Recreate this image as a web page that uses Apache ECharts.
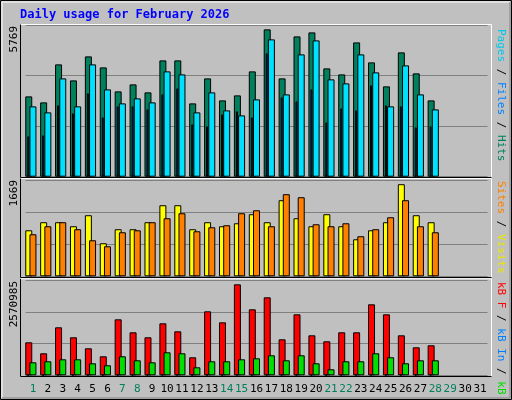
<!DOCTYPE html>
<html><head><meta charset="utf-8">
<script src="https://cdn.jsdelivr.net/npm/echarts@6/dist/echarts.min.js"></script>
<style>html,body{margin:0;padding:0;background:#C0C0C0}#c{width:512px;height:400px}</style>
</head><body><div id="c"></div>
<script>
const days = ['1','2','3','4','5','6','7','8','9','10','11','12','13','14','15','16','17','18','19','20','21','22','23','24','25','26','27','28','29','30','31'];
const weekend = ['1','7','8','14','15','21','22','28','29'];
const hits  = [3145,2910,4398,3771,4711,4280,3341,3615,3302,4554,4554,2871,3850,2988,3184,4124,5769,3850,5494,5651,4241,4006,5259,4476,3537,4868,4046,2988];
const files = [2754,2519,3850,2754,4398,3419,2871,3067,2910,4124,4006,2519,3302,2597,2401,3028,5377,3223,4789,5337,3811,3654,4789,4085,2754,4359,3223,2636];
const pages = [1579,1618,2793,2480,3263,2323,2754,2754,2636,3223,3458,2049,1971,2440,2558,2323,4829,3106,2949,3419,2127,2675,2597,3576,2793,2754,1931,1971];
const visits= [834,980,980,907,1107,599,853,853,980,1288,1288,853,980,907,961,1125,980,1379,1052,907,1125,907,671,834,980,1669,1107,980];
const sites = [762,907,980,853,653,544,798,834,980,1052,1143,816,889,925,1143,1197,907,1488,1433,943,907,961,726,853,1070,1379,907,798];
const kbF   = [932,622,1356,1074,763,537,1582,1215,1074,1469,1243,509,1808,1497,2571,1865,2204,1017,1723,1130,961,1215,1215,2006,1723,1130,791,848].map(v=>v*1000);
const kbIn  = [12,10,12,11,10,9,12,11,10,12,12,9,12,11,13,12,14,11,12,10,9,11,11,13,12,11,10,10].map(v=>v*1000);
const kbOut = [367,396,452,452,339,283,537,424,367,650,622,226,396,396,452,480,565,424,565,339,170,396,396,622,509,339,424,424].map(v=>v*1000);
const yMaxLabels = ['5769','1669','2570985'];

const L=25.5, W=462;
const panels=[{top:25,h:151.7,max:5940,iv:1980},{top:180.3,h:96,max:1740,iv:580},{top:280.3,h:95,max:2685000,iv:895000}];
const defs=[
 {p:0,d:hits,c:'#00805C',dx:-4.2,w:7},{p:0,d:pages,c:'#0040FF',dx:-4.7,w:2},{p:0,d:files,c:'#00E0FF',dx:0,w:7},
 {p:1,d:visits,c:'#FFFF00',dx:-4.2,w:7},{p:1,d:sites,c:'#FF8000',dx:0,w:7},
 {p:2,d:kbF,c:'#FF0000',dx:-4.2,w:7},{p:2,d:kbIn,c:'#0080FF',dx:-4.7,w:2},{p:2,d:kbOut,c:'#00E000',dx:0,w:7}
];
const grid=[],xAxis=[],yAxis=[],series=[];
// gridline grids (one per panel)
panels.forEach((p,i)=>{
  grid.push({left:L,width:W,top:p.top,height:p.h});
  xAxis.push({type:'category',gridIndex:i,data:days,show:false});
  yAxis.push({type:'value',gridIndex:i,min:0,max:p.max,interval:p.iv,axisLabel:{show:false},axisLine:{show:false},axisTick:{show:false},
    splitLine:{show:true,lineStyle:{color:'#808080',width:1}}});
});
defs.forEach((s,k)=>{
  const gi=grid.length, p=panels[s.p];
  grid.push({left:L+s.dx,width:W,top:p.top,height:p.h});
  xAxis.push({type:'category',gridIndex:gi,data:days,show:false});
  yAxis.push({type:'value',gridIndex:gi,min:0,max:p.max,show:false,splitLine:{show:false}});
  series.push({type:'bar',xAxisIndex:gi,yAxisIndex:gi,data:s.d,barWidth:s.w,z:2+k,
    itemStyle:{color:s.c,borderColor:'#000',borderWidth:1},silent:true,animation:false});
});
// x label axis
grid.push({left:L,width:W,top:panels[2].top,height:panels[2].h});
const lg=grid.length-1;
xAxis.push({type:'category',gridIndex:lg,data:days,axisLine:{show:false},axisTick:{show:false},
  axisLabel:{interval:0,margin:8,fontFamily:'DejaVu Sans Mono',fontSize:11,
    color:(v)=>weekend.includes(v)?'#00805C':'#000'}});
yAxis.push({type:'value',gridIndex:lg,show:false});

const g=[];
g.push({type:'rect',shape:{x:0.5,y:0.5,width:511,height:399},style:{fill:'none',stroke:'#000',lineWidth:1}});
g.push({type:'polyline',shape:{points:[[2,398],[2,2],[510,2]]},style:{stroke:'#fff',lineWidth:1,fill:'none'}});
g.push({type:'polyline',shape:{points:[[2,398],[510,398],[510,2]]},style:{stroke:'#808080',lineWidth:1,fill:'none'}});
g.push({type:'text',x:20,y:9,style:{text:'Daily usage for February 2026',fill:'#0000FF',font:'bold 12px "DejaVu Sans Mono"'}});
const pb=[[24.5,177.5],[178.5,277.5],[278.8,376.5]];
pb.forEach(([t,b])=>{
  g.push({type:'polyline',shape:{points:[[20.5,b],[20.5,t],[491.5,t],[491.5,b]]},style:{stroke:'#fff',lineWidth:1,fill:'none'}});
  g.push({type:'polyline',shape:{points:[[20.5,t],[20.5,b],[491.5,b]]},style:{stroke:'#000',lineWidth:1,fill:'none'}});
});
const ylabY=[26,180,281];
yMaxLabels.forEach((t,i)=>{
  g.push({type:'text',x:9,y:ylabY[i],rotation:Math.PI/2,style:{text:t,fill:'#000',font:'11px "DejaVu Sans Mono"',align:'right',verticalAlign:'top'}});
});
const legends=[
 {y:29,parts:[['Pages','#00C8E8'],[' / ','#000'],['Files','#0080FF'],[' / ','#000'],['Hits','#00805C']]},
 {y:181,parts:[['Sites','#FF8000'],[' / ','#000'],['Visits','#E8E800']]},
 {y:282,parts:[['kB F','#FF0000'],[' / ','#000'],['kB In','#0080FF'],[' / ','#000'],['kB Out','#00E000']]}
];
legends.forEach(l=>{
  const rich={};let txt='';
  l.parts.forEach((p,i)=>{rich['s'+i]={fill:p[1],font:'11px "DejaVu Sans Mono"'};txt+='{s'+i+'|'+p[0]+'}';});
  g.push({type:'text',x:495,y:l.y,rotation:-Math.PI/2,style:{text:txt,rich:rich,font:'11px "DejaVu Sans Mono"',align:'left',verticalAlign:'bottom'}});
});
const chart=echarts.init(document.getElementById('c'));
chart.setOption({backgroundColor:'#C0C0C0',animation:false,grid,xAxis,yAxis,series,graphic:g});
</script></body></html>
